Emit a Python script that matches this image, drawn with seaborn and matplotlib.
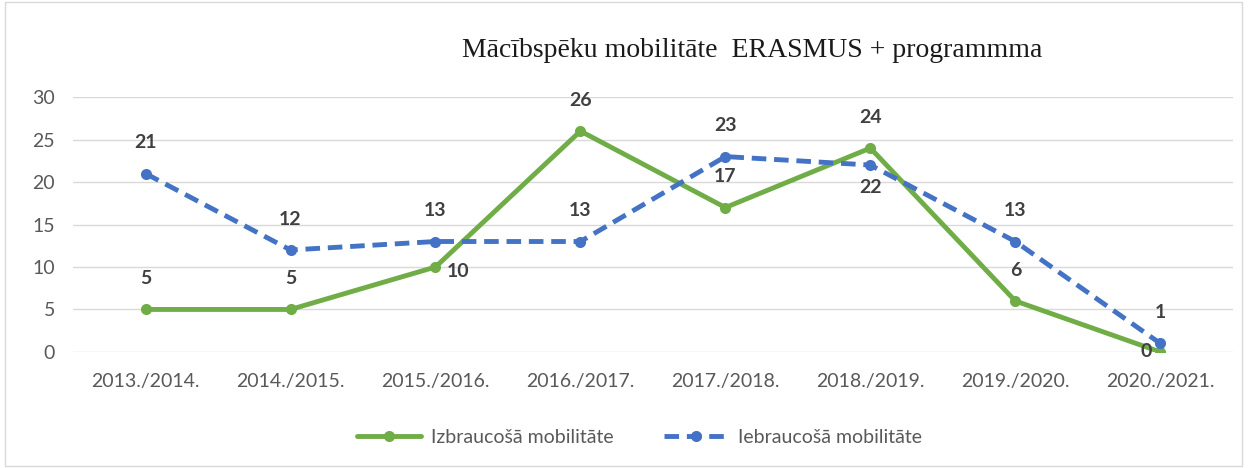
import pandas as pd
import matplotlib.pyplot as plt
import seaborn as sns
from matplotlib.patches import Rectangle

# Chart data
years = ['2013./2014.', '2014./2015.', '2015./2016.', '2016./2017.',
         '2017./2018.', '2018./2019.', '2019./2020.', '2020./2021.']
izbraucosa = [5, 5, 10, 26, 17, 24, 6, 0]
iebraucosa = [21, 12, 13, 13, 23, 22, 13, 1]
series_names = ['Izbraucošā mobilitāte', 'Iebraucošā mobilitāte']
y_ticks = [0, 5, 10, 15, 20, 25, 30]

# label placement per point: 'above', 'below', 'right', 'left'
izb_pos = ['above', 'above', 'right', 'above', 'above', 'above', 'above', 'left']
ieb_pos = ['above', 'above', 'above', 'above', 'above', 'below', 'above', 'above']

green = '#70AD47'
blue = '#4472C4'
label_color = '#404040'
tick_color = '#595959'

df = pd.DataFrame({
    'year': years * 2,
    'value': izbraucosa + iebraucosa,
    'series': [series_names[0]] * len(years) + [series_names[1]] * len(years),
})

sns.set_style('white')
plt.rcParams['font.family'] = ['Lato', 'DejaVu Sans']

fig = plt.figure(figsize=(12.49, 4.68), dpi=100)
ax = fig.add_axes([0.0585, 0.248, 0.9285, 0.5445])

sns.lineplot(data=df, x='year', y='value', hue='series', style='series',
             palette=[green, blue], dashes=[(None, None), (3, 1.6)],
             markers=['o', 'o'], markersize=8, markeredgewidth=0,
             linewidth=3.5, sort=False, ax=ax, legend=False)

ax.set_xlim(-0.5, len(years) - 0.5)
ax.set_ylim(0, 30)
ax.set_yticks(y_ticks)
ax.set_xlabel('')
ax.set_ylabel('')
ax.grid(axis='y', color='#d9d9d9', linewidth=1)
ax.set_axisbelow(True)
for s in ax.spines.values():
    s.set_visible(False)
ax.tick_params(axis='both', length=0, labelsize=14, colors=tick_color)
ax.tick_params(axis='x', pad=15)
ax.tick_params(axis='y', pad=13)


def add_labels(values, positions):
    for i, (v, p) in enumerate(zip(values, positions)):
        if p == 'above':
            off, ha, va = (0, 16), 'center', 'bottom'
        elif p == 'below':
            off, ha, va = (0, -10), 'center', 'top'
        elif p == 'right':
            off, ha, va = (8, -3), 'left', 'center'
        else:
            off, ha, va = (-6, 0), 'right', 'center'
        ax.annotate(str(v), (i, v), xytext=off, textcoords='offset points',
                    ha=ha, va=va, fontsize=14, fontweight='bold', color=label_color)


add_labels(izbraucosa, izb_pos)
add_labels(iebraucosa, ieb_pos)

fig.text(0.602, 0.893, 'Mācībspēku mobilitāte  ERASMUS + programmma',
         ha='center', va='center', fontsize=20, family='Liberation Serif', color='#1a1a1a')

handles = [
    plt.Line2D([], [], color=green, linewidth=3.5, marker='o', markersize=8, markeredgewidth=0),
    plt.Line2D([], [], color=blue, linewidth=3.5, linestyle=(0, (3, 1.6)), marker='o',
               markersize=8, markeredgewidth=0),
]
fig.legend(handles, series_names, loc='center', bbox_to_anchor=(0.512, 0.066), ncol=2,
           frameon=False, fontsize=14, labelcolor=tick_color, handlelength=3.3,
           columnspacing=2.6, handletextpad=0.5)

fig.patches.append(Rectangle((0.004, 0.004), 0.99, 0.992, transform=fig.transFigure,
                             fill=False, edgecolor='#d9d9d9', linewidth=1))

fig.savefig('out.png', dpi=100, facecolor='white')
